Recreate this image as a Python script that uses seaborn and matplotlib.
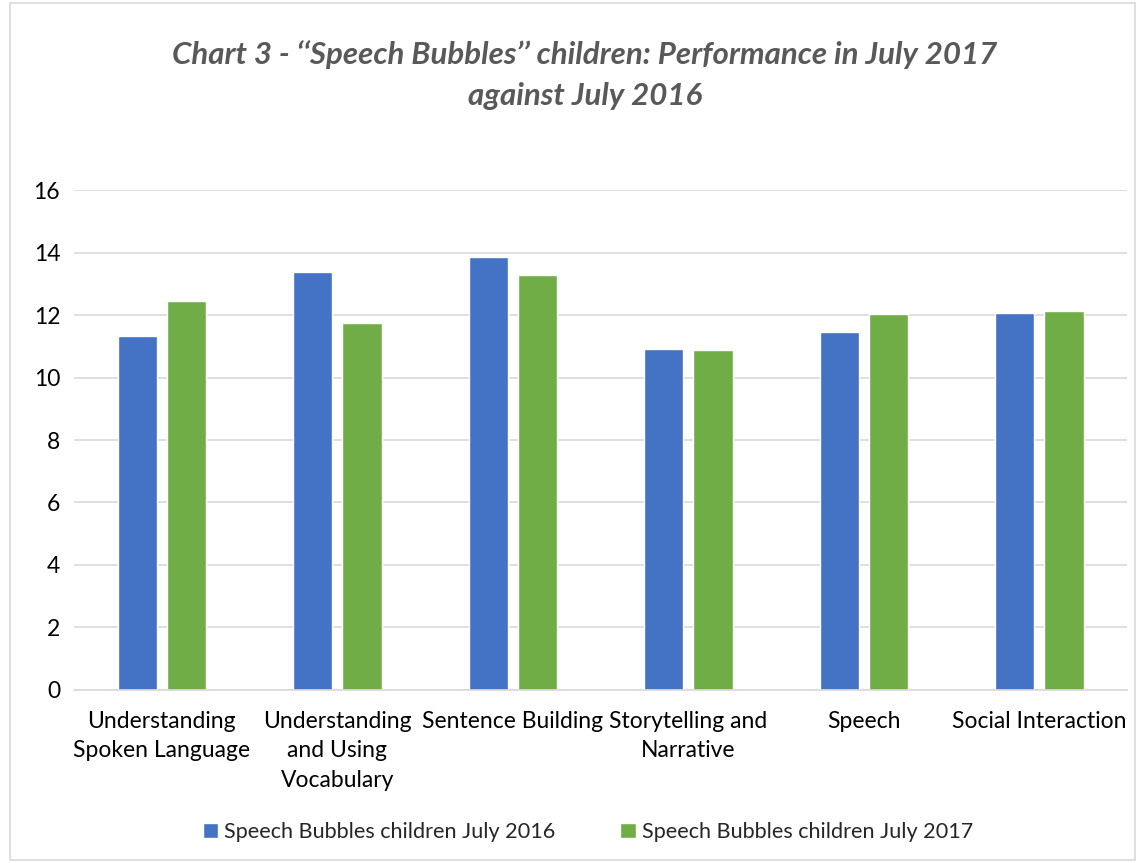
import matplotlib
matplotlib.use("Agg")
import matplotlib.pyplot as plt
import seaborn as sns
import pandas as pd
from matplotlib.patches import Rectangle

categories = ["Understanding\nSpoken Language", "Understanding\nand Using\nVocabulary",
              "Sentence Building", "Storytelling and\nNarrative", "Speech", "Social Interaction"]
july_2016 = [11.32, 13.39, 13.85, 10.92, 11.45, 12.05]
july_2017 = [12.44, 11.73, 13.27, 10.89, 12.03, 12.13]
series = ["Speech Bubbles children July 2016", "Speech Bubbles children July 2017"]
colors = ["#4472C4", "#70AD47"]

df = pd.DataFrame({
    "category": categories * 2,
    "value": july_2016 + july_2017,
    "series": [series[0]] * len(categories) + [series[1]] * len(categories),
})

sns.set_theme(style="white")
plt.rcParams['font.family'] = ['Lato', 'DejaVu Sans']

fig = plt.figure(figsize=(11.42, 8.63), dpi=100)
ax = fig.add_axes([0.0648, 0.2005, 0.9222, 0.5793])

sns.barplot(data=df, x="category", y="value", hue="series", palette=colors,
            width=0.56, gap=0.2, ax=ax, legend=True, saturation=1)

ax.set_ylim(0, 16)
ax.set_xlim(-0.5, 5.5)
ax.set_yticks(range(0, 17, 2))
ax.yaxis.grid(True, color="#D9D9D9", linewidth=1.2)
ax.set_axisbelow(True)
for s in ["top", "right", "left"]:
    ax.spines[s].set_visible(False)
ax.spines["bottom"].set_color("#D9D9D9")
ax.spines["bottom"].set_linewidth(1.2)
ax.tick_params(axis="both", length=0, labelsize=16.5, colors="#000000", pad=10)
ax.tick_params(axis="x", pad=15)
for lbl in ax.get_xticklabels():
    lbl.set_linespacing(1.5)
ax.set_xlabel("")
ax.set_ylabel("")

leg = ax.legend(loc="center", bbox_to_anchor=(0.488, -0.284), ncol=2, frameon=False,
                fontsize=15.6, handlelength=0.7, handleheight=0.7, handletextpad=0.3,
                columnspacing=3.0)

fig.text(0.512, 0.913, "Chart 3 - ‘‘Speech Bubbles’’ children: Performance in July 2017\nagainst July 2016",
         ha="center", va="center", fontsize=22.5, fontstyle="italic", fontweight="bold",
         color="#595959", linespacing=1.55)

fig.patches.append(Rectangle((0.009, 0.003), 0.985, 0.994, transform=fig.transFigure,
                             fill=False, edgecolor="#D9D9D9", linewidth=1.2))

fig.savefig("out.png", dpi=100)
